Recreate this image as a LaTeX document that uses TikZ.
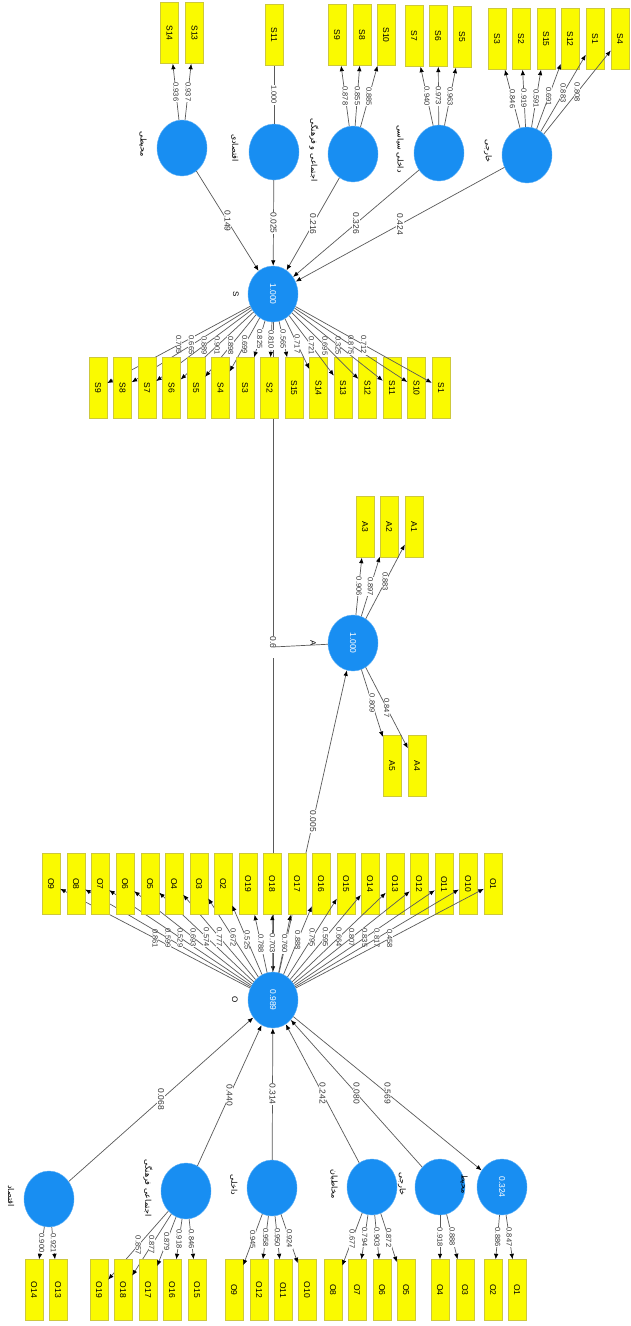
\documentclass[tikz,border=0pt]{standalone}
\usepackage{fontspec}
\setmainfont{Liberation Sans}
\newfontfamily\arabicfont[Script=Arabic]{DejaVu Sans}
\TeXXeTstate=1
\usetikzlibrary{shapes.geometric,arrows.meta}
\definecolor{lvblue}{RGB}{24,142,242}
\definecolor{indyellow}{RGB}{250,250,0}
\definecolor{indborder}{RGB}{205,200,60}
\definecolor{pathgray}{RGB}{90,90,90}
\pgfdeclarelayer{bg}
\pgfsetlayers{bg,main}
\tikzset{
  lv/.style={ellipse, fill=lvblue, draw=lvblue!70!white, minimum width=56pt, minimum height=50pt,
    inner sep=0pt, rotate=-90, text=white, font=\fontsize{8.5}{9}\selectfont},
  ind/.style={rectangle, fill=indyellow, draw=indborder, minimum width=61pt, minimum height=18pt,
    inner sep=0pt, rotate=-90, font=\fontsize{8.5}{9}\selectfont},
  link/.style={draw=pathgray, line width=0.7pt},
  arr/.style={link, -{Latex[length=5.5pt,width=4.5pt,color=black]}},
  load/.style={fill=white, inner sep=0.5pt, rotate=-90, text=black!80, font=\fontsize{7.5}{8}\selectfont},
  coef/.style={fill=white, inner sep=0.8pt, rotate=-90, text=black!80, font=\fontsize{8.5}{9}\selectfont},
  lvname/.style={rotate=-90, inner sep=0pt, font=\fontsize{8}{9}\selectfont},
}
\begin{document}
\begin{tikzpicture}[x=1pt,y=-1pt]
\useasboundingbox (0,0) rectangle (630,1326);
\begin{pgfonlayer}{bg}
  \fill[white] (0,0) rectangle (630,1326);
\end{pgfonlayer}

% main constructs
\node[lv] (S) at (273,294) {1.000};
\node[lvname] (S-name) at (236,294) {S};
\node[lv] (A) at (353,643) {1.000};
\node[lvname] (A-name) at (313,643) {A};
\node[lv] (O) at (273,1000) {0.989};
\node[lvname] (O-name) at (235,1000) {O};

% S side, upper constructs
\foreach \n/\x/\y/\t in {c1/182/148/محیطی, c2/274/152/اقتصادی, c3/353/154/اجتماعی و فرهنگی,
    c4/439/153/داخلی سیاسی, c5/527/155/خارجی} {
  \node[lv] (\n) at (\x,\y) {};
  \node[lvname] (\n-name) at (\x-39,\y-4) {\arabicfont\beginR\t\endR};
}
\foreach \n/\x/\y/\c/\v in {S14/169.5/33/c1/0.936, S13/194.5/33/c1/0.937,
    S9/337/35/c3/0.878, S8/362/35/c3/0.855, S10/386/35/c3/0.885,
    S7/414/36/c4/0.940, S6/438/36/c4/0.973, S5/462/37/c4/0.963,
    S3/497/39/c5/0.846, S2/521/39/c5/0.919, S15/546/39/c5/0.591,
    S12/570/39/c5/0.691, S1/595/39/c5/0.883, S4/620/39/c5/0.808} {
  \node[ind] (t\n) at (\x,\y) {\n};
  \draw[arr] (\c) -- (t\n) node[load,midway] {\v};
}
\node[ind] (tS11) at (274,35) {S11};
\draw[link] (c2) -- (tS11) node[load,midway] {1.000};
\foreach \c/\v in {c1/0.149, c2/0.025, c3/0.216, c4/0.326, c5/0.424}
  \draw[arr] (\c) -- (S) node[coef,midway] {\v};

% S indicators
\foreach \n/\x/\v in {S9/98/0.705, S8/122.5/0.665, S7/147/0.889, S6/171.5/0.901, S5/196/0.898,
    S4/220.5/0.699, S3/245/0.825, S2/269.5/0.810, S15/294/0.565, S14/318.5/0.717,
    S13/343/0.721, S12/367.5/0.695, S11/392/0.325, S10/416.5/0.875, S1/441/0.712} {
  \node[ind] (s\n) at (\x,388) {\n};
  \draw[arr] (S) -- (s\n) node[load,midway] {\v};
}

% path S -> O with A
\begin{pgfonlayer}{bg}
  \draw[arr] (S) -- (O) node[coef,midway] (SO) {0.6\phantom{00}};
  \draw[link] (SO.center) -- (A);
\end{pgfonlayer}
\draw[arr] (O) -- (A) node[coef,midway] {0.005};
\foreach \n/\x/\y/\v in {A3/365/527/0.906, A2/389/527/0.897, A1/414/527/0.883,
    A5/392/766/0.809, A4/417/766/0.847} {
  \node[ind] (a\n) at (\x,\y) {\n};
  \draw[arr] (A) -- (a\n) node[load,midway] {\v};
}

% O indicators
\foreach \n/\x/\v in {O9/51/0.861, O8/76/0.599, O7/100/0.529, O6/125/0.693, O5/150/0.574,
    O4/174/0.777, O3/199/0.672, O2/223/0.525, O19/248/0.788, O18/272/0.703,
    O17/297/0.760, O16/321/0.888, O15/346/0.795, O14/370/0.595, O13/395/0.664,
    O12/419/0.807, O11/444/0.835, O10/468/0.817, O1/493/0.458} {
  \node[ind] (o\n) at (\x,884) {\n};
  \draw[arr] (O) -- (o\n) node[load,midway] {\v};
}

% O side, lower constructs
\foreach \n/\x/\y/\t in {b1/49/1199/اقتصاد, b2/186/1191/اجتماعی فرهنگی, b3/272/1188/داخلی,
    b4/372/1187/مخاطبان, b5/440/1187/خارجی, b6/502/1187/محیط} {
  \node[lv] (\n) at (\x,\y) {};
  \node[lvname] (\n-name) at (\x-38,\y-3) {\arabicfont\beginR\t\endR};
}
\node[text=white, rotate=-90, font=\fontsize{8.5}{9}\selectfont] (b6-value) at (b6) {0.324};
\foreach \c/\v in {b1/0.068, b2/0.440, b3/0.314, b4/0.242, b5/0.080}
  \draw[arr] (\c) -- (O) node[coef,midway] {\v};
\draw[arr] (O) -- (b6) node[coef,midway] {0.569};
\foreach \n/\x/\c/\v in {O14/34/b1/0.900, O13/58/b1/0.921,
    O19/99/b2/0.857, O18/123/b2/0.877, O17/148/b2/0.879, O16/172/b2/0.918, O15/197/b2/0.846,
    O9/234/b3/0.945, O12/259/b3/0.958, O11/283/b3/0.950, O10/307/b3/0.924,
    O8/333/b4/0.677, O7/357/b4/0.794, O6/382/b4/0.903, O5/406/b4/0.872,
    O4/440/b5/0.918, O3/465/b5/0.888, O2/493/b6/0.886, O1/517/b6/0.847} {
  \node[ind] (b\n) at (\x,1290) {\n};
  \draw[arr] (\c) -- (b\n) node[load,midway] {\v};
}
\end{tikzpicture}
\end{document}
